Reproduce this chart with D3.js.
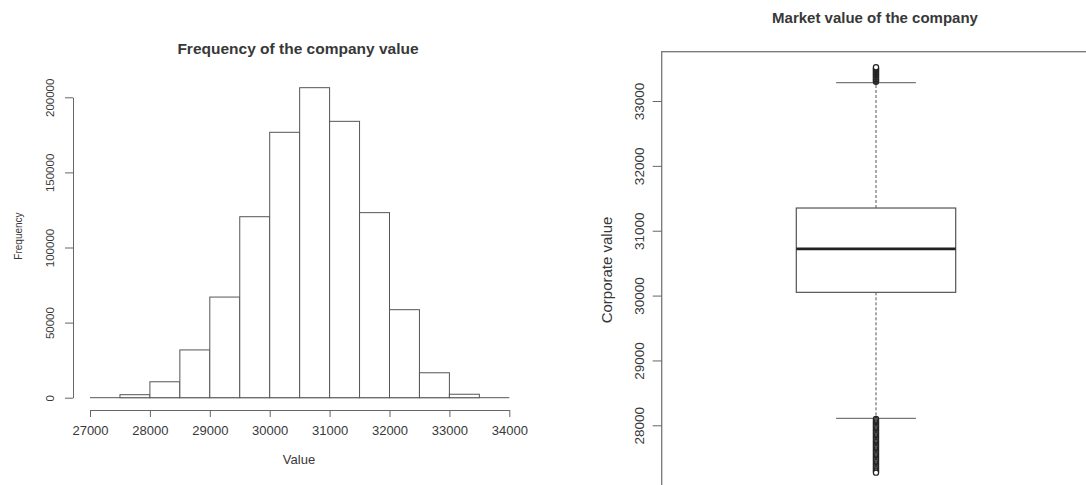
<!DOCTYPE html>
<html>
<head>
<meta charset="utf-8">
<script src="https://cdn.jsdelivr.net/npm/d3@7"></script>
<style>
  body { margin: 0; background: #fff; }
  svg { display: block; }
</style>
</head>
<body>
<div id="chart"></div>
<script>
// histogram data (bins of 500)
const binStarts = [27000, 27500, 28000, 28500, 29000, 29500, 30000, 30500, 31000, 31500, 32000, 32500, 33000, 33500];
const binCounts = [0, 2000, 10600, 31800, 67000, 120500, 176700, 206400, 184000, 123200, 58600, 16600, 2300, 0];
const histXTicks = [27000, 28000, 29000, 30000, 31000, 32000, 33000, 34000];
const histYTicks = [0, 50000, 100000, 150000, 200000];

// boxplot data
const boxStats = [28108, 30050, 30720, 31350, 33282]; // lower whisker, q1, median, q3, upper whisker
const upperOutliers = [33295, 33312, 33326, 33341, 33357, 33370, 33388, 33401, 33417, 33432, 33446, 33463, 33478, 33492, 33506, 33521];
const lowerOutliers = [28098, 28080, 28061, 28045, 28026, 28008, 27990, 27973, 27955, 27936, 27918, 27900, 27882, 27864, 27846,
                       27828, 27810, 27792, 27774, 27756, 27738, 27720, 27702, 27684, 27665, 27646, 27628, 27610, 27592, 27574,
                       27556, 27538, 27520, 27502, 27484, 27466, 27448, 27430, 27412, 27394, 27376, 27358, 27340, 27322, 27304,
                       27288, 27270];
const boxYTicks = [28000, 29000, 30000, 31000, 32000, 33000];

const width = 1086;
const height = 485;
const fontFamily = `"Liberation Sans", Arial, Helvetica, sans-serif`;
const lineColor = `#555`;
const textColor = `#383838`;

const svg = d3.select(`#chart`)
  .append(`svg`)
    .attr(`width`, width)
    .attr(`height`, height)
    .style(`font-family`, fontFamily);

// ---------- left: histogram ----------
const hx = d3.scaleLinear().domain([27000, 34000]).range([90, 509.3]);
const hy = d3.scaleLinear().domain([0, 200000]).range([397.7, 97.3]);

svg.append(`text`)
  .attr(`x`, 298).attr(`y`, 49)
  .attr(`text-anchor`, `middle`)
  .attr(`dy`, `0.35em`)
  .style(`font-size`, `15.5px`)
  .style(`font-weight`, `bold`)
  .attr(`fill`, textColor)
  .text(`Frequency of the company value`);

// baseline under all bins (empty bins show only this)
svg.append(`line`)
  .attr(`x1`, hx(binStarts[0]))
  .attr(`x2`, hx(binStarts[binStarts.length - 1] + 500))
  .attr(`y1`, hy(0)).attr(`y2`, hy(0))
  .attr(`stroke`, lineColor);

svg.append(`g`).selectAll(`rect`)
  .data(binStarts.filter((d, i) => binCounts[i] > 0))
  .join(`rect`)
    .attr(`x`, d => hx(d))
    .attr(`y`, d => hy(binCounts[binStarts.indexOf(d)]))
    .attr(`width`, d => hx(d + 500) - hx(d))
    .attr(`height`, d => hy(0) - hy(binCounts[binStarts.indexOf(d)]))
    .attr(`fill`, `#fff`)
    .attr(`stroke`, lineColor)
    .attr(`stroke-width`, 1);

const hxAxis = svg.append(`g`)
  .attr(`transform`, `translate(0,410)`)
  .call(d3.axisBottom(hx).tickValues(histXTicks).tickFormat(d3.format(`d`)).tickSize(7).tickSizeOuter(0).tickPadding(9));
hxAxis.selectAll(`path, line`).attr(`stroke`, `#666`);
hxAxis.selectAll(`text`).style(`font-size`, `13px`).attr(`fill`, textColor);

const hyAxis = svg.append(`g`)
  .attr(`transform`, `translate(73,0)`)
  .call(d3.axisLeft(hy).tickValues(histYTicks).tickFormat(d3.format(`d`)).tickSize(8).tickSizeOuter(0));
hyAxis.selectAll(`path, line`).attr(`stroke`, `#666`);
hyAxis.selectAll(`text`)
  .attr(`transform`, `rotate(-90)`)
  .attr(`x`, 0).attr(`y`, -23).attr(`dy`, `0.35em`)
  .attr(`text-anchor`, `middle`)
  .style(`font-size`, `11.5px`)
  .attr(`fill`, textColor);

svg.append(`text`)
  .attr(`x`, 299).attr(`y`, 459)
  .attr(`text-anchor`, `middle`).attr(`dy`, `0.35em`)
  .style(`font-size`, `13px`)
  .attr(`fill`, textColor)
  .text(`Value`);

svg.append(`text`)
  .attr(`transform`, `translate(18,236) rotate(-90)`)
  .attr(`text-anchor`, `middle`).attr(`dy`, `0.35em`)
  .style(`font-size`, `10px`)
  .attr(`fill`, textColor)
  .text(`Frequency`);

// ---------- right: boxplot ----------
const by = d3.scaleLinear().domain([28000, 33000]).range([425.3, 101]);
const bx = d3.scaleLinear().domain([0, 2]).range([676.75, 1075.25]);
const boxWex = 0.8;
const stapleWex = 0.4;

svg.append(`text`)
  .attr(`x`, 875).attr(`y`, 18)
  .attr(`text-anchor`, `middle`).attr(`dy`, `0.35em`)
  .style(`font-size`, `15px`)
  .style(`font-weight`, `bold`)
  .attr(`fill`, textColor)
  .text(`Market value of the company`);

// plot frame (runs past the picture edge)
svg.append(`rect`)
  .attr(`x`, 661.7).attr(`y`, 51.7)
  .attr(`width`, 600).attr(`height`, 600)
  .attr(`fill`, `none`)
  .attr(`stroke`, `#777`)
  .attr(`stroke-width`, 1.3);

const byAxis = svg.append(`g`)
  .attr(`transform`, `translate(661.7,0)`)
  .call(d3.axisLeft(by).tickValues(boxYTicks).tickFormat(d3.format(`d`)).tickSize(9).tickSizeOuter(0));
byAxis.select(`.domain`).remove();
byAxis.selectAll(`line`).attr(`stroke`, `#666`);
byAxis.selectAll(`text`)
  .attr(`transform`, `rotate(-90)`)
  .attr(`x`, 0).attr(`y`, -22.5).attr(`dy`, `0.35em`)
  .attr(`text-anchor`, `middle`)
  .style(`font-size`, `13.5px`)
  .attr(`fill`, textColor);

svg.append(`text`)
  .attr(`transform`, `translate(607,270) rotate(-90)`)
  .attr(`text-anchor`, `middle`).attr(`dy`, `0.35em`)
  .style(`font-size`, `15px`)
  .attr(`fill`, textColor)
  .text(`Corporate value`);

const [wLo, q1, med, q3, wHi] = boxStats;
const bg = svg.append(`g`);

// whiskers
bg.append(`line`)
  .attr(`x1`, bx(1)).attr(`x2`, bx(1))
  .attr(`y1`, by(q3)).attr(`y2`, by(wHi))
  .attr(`stroke`, lineColor).attr(`stroke-dasharray`, `3,2`);
bg.append(`line`)
  .attr(`x1`, bx(1)).attr(`x2`, bx(1))
  .attr(`y1`, by(q1)).attr(`y2`, by(wLo))
  .attr(`stroke`, lineColor).attr(`stroke-dasharray`, `3,2`);

// staples
[wLo, wHi].forEach(v => {
  bg.append(`line`)
    .attr(`x1`, bx(1 - stapleWex / 2)).attr(`x2`, bx(1 + stapleWex / 2))
    .attr(`y1`, by(v)).attr(`y2`, by(v))
    .attr(`stroke`, `#777`).attr(`stroke-width`, 1.2);
});

// box
bg.append(`rect`)
  .attr(`x`, bx(1 - boxWex / 2)).attr(`y`, by(q3))
  .attr(`width`, bx(1 + boxWex / 2) - bx(1 - boxWex / 2))
  .attr(`height`, by(q1) - by(q3))
  .attr(`fill`, `#fff`)
  .attr(`stroke`, lineColor).attr(`stroke-width`, 1.2);

// median
bg.append(`line`)
  .attr(`x1`, bx(1 - boxWex / 2)).attr(`x2`, bx(1 + boxWex / 2))
  .attr(`y1`, by(med)).attr(`y2`, by(med))
  .attr(`stroke`, `#222`).attr(`stroke-width`, 2.6);

// outliers
bg.append(`g`).selectAll(`circle`)
  .data(upperOutliers.concat(lowerOutliers))
  .join(`circle`)
    .attr(`cx`, bx(1))
    .attr(`cy`, d => by(d))
    .attr(`r`, 2.6)
    .attr(`fill`, `#fff`)
    .attr(`stroke`, `#222`)
    .attr(`stroke-width`, 1.2);
</script>
</body>
</html>
